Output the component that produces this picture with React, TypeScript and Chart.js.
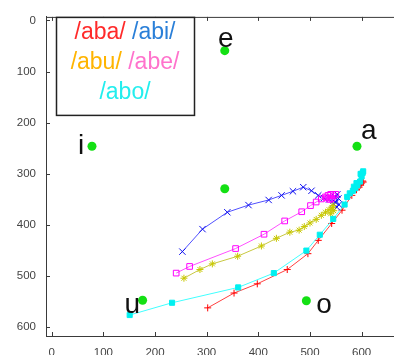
import React, { useEffect, useRef } from 'react';
import { Chart, registerables } from 'chart.js';
Chart.register(...registerables);

const xTicks = [0, 100, 200, 300, 400, 500, 600];
const yTicks = [0, 100, 200, 300, 400, 500, 600];

const seriesNames = ['/aba/', '/abi/', '/abu/', '/abe/', '/abo/'];
const legendColors = ['#ff2a2a', '#2a7fd8', '#ffb400', '#ff72cc', '#22eeee'];

const abaPoints = [[302, 562], [353, 533], [398, 515], [456, 487], [496, 456], [516, 430], [542, 397], [562, 371], [581, 342], [590, 331], [595, 326], [598, 322], [600, 318], [602, 314], [598, 320], [603, 316]];
const abiPoints = [[253, 452], [292, 408], [340, 375], [381, 361], [420, 351], [445, 342], [467, 334], [487, 326], [503, 333], [516, 342], [527, 347], [537, 350], [545, 352], [550, 356], [555, 348], [553, 340], [548, 345], [556, 360], [552, 365], [545, 358]];
const abuPoints = [[256, 504], [287, 487], [311, 476], [360, 461], [406, 441], [435, 426], [461, 414], [479, 410], [489, 403], [500, 396], [512, 389], [522, 381], [530, 375], [537, 370], [543, 366], [546, 372], [540, 378], [545, 362]];
const abePoints = [[241, 494], [267, 481], [356, 446], [411, 418], [451, 392], [484, 374], [501, 362], [512, 355], [522, 349], [530, 345], [535, 342], [540, 340], [545, 343], [538, 350], [532, 347], [542, 348], [550, 340]];
const aboPoints = [[151, 576], [233, 552], [361, 522], [430, 494], [493, 450], [519, 419], [545, 388], [567, 360], [572, 345], [577, 338], [583, 333], [588, 328], [592, 322], [597, 315], [600, 305], [602, 298], [598, 300], [603, 295], [590, 318], [585, 325]];

const vowelX = [78, 335, 591, 176, 493, 335];
const vowelY = [246, 59, 246, 547, 548, 329];
const vowelNames = ['i', 'e', 'a', 'u', 'o'];
const labelX = [57, 337, 614, 156, 527];
const labelY = [262, 51, 232, 572, 572];

const toXY = (arr: number[][]) => arr.map(([x, y]) => ({ x, y }));

const AXIS = '#3a3a3a';

const framePlugin = {
  id: 'frame',
  afterDatasetsDraw(chart: any) {
    const { ctx, chartArea, scales } = chart;
    const xs = scales.x;
    const ys = scales.y;
    ctx.save();
    ctx.strokeStyle = AXIS;
    ctx.lineWidth = 1;
    ctx.beginPath();
    ctx.moveTo(chartArea.left, chartArea.top + 0.5);
    ctx.lineTo(chart.width, chartArea.top + 0.5);
    ctx.moveTo(chartArea.right - 1, chartArea.bottom + 0.5);
    ctx.lineTo(chart.width, chartArea.bottom + 0.5);
    for (const t of xTicks) {
      const px = Math.round(xs.getPixelForValue(t)) + 0.5;
      ctx.moveTo(px, chartArea.bottom);
      ctx.lineTo(px, chartArea.bottom - 4);
      ctx.moveTo(px, chartArea.top);
      ctx.lineTo(px, chartArea.top + 4);
    }
    for (const t of yTicks) {
      const py = Math.round(ys.getPixelForValue(t)) + 0.5;
      ctx.moveTo(chartArea.left, py);
      ctx.lineTo(chartArea.left + 4, py);
    }
    ctx.stroke();

    // vowel labels
    ctx.fillStyle = '#111';
    ctx.font = '28px "Liberation Sans", Arial, sans-serif';
    ctx.textAlign = 'center';
    ctx.textBaseline = 'alphabetic';
    vowelNames.forEach((n, i) => {
      ctx.fillText(n, xs.getPixelForValue(labelX[i]), ys.getPixelForValue(labelY[i]));
    });

    // legend box
    const bx = chartArea.left + 10;
    const by = chartArea.top;
    const bw = 138;
    const bh = 98;
    ctx.fillStyle = '#fff';
    ctx.fillRect(bx, by, bw, bh);
    ctx.strokeStyle = '#222';
    ctx.lineWidth = 1.5;
    ctx.strokeRect(bx + 0.5, by + 0.5, bw, bh);
    ctx.font = '23px "Liberation Sans", Arial, sans-serif';
    ctx.textAlign = 'left';
    const rows = [[0, 1], [2, 3], [4]];
    const baselines = [39, 69, 99];
    const cx = bx + bw / 2;
    const space = ctx.measureText(' ').width;
    rows.forEach((row, r) => {
      const widths = row.map((i) => ctx.measureText(seriesNames[i]).width);
      const total = widths.reduce((a, b) => a + b, 0) + space * (row.length - 1);
      let x = cx - total / 2;
      row.forEach((i, k) => {
        ctx.fillStyle = legendColors[i];
        ctx.fillText(seriesNames[i], x, baselines[r]);
        x += widths[k] + space;
      });
    });
    ctx.restore();
  },
};

export default function App() {
  const ref = useRef<HTMLCanvasElement>(null);
  useEffect(() => {
    const canvas = ref.current!;
    const line = (data: number[][], color: string, lineColor: string, style: string, radius: number, fill: boolean, order: number) => ({
      data: toXY(data),
      showLine: true,
      borderColor: lineColor,
      borderWidth: 1,
      pointStyle: style,
      pointRadius: radius,
      pointBorderColor: color,
      pointBackgroundColor: fill ? color : 'rgba(0,0,0,0)',
      pointBorderWidth: 1,
      order,
    });
    const chart = new Chart(canvas, {
      type: 'scatter',
      data: {
        datasets: [
          line(abaPoints, '#ff0000', '#ff4040', 'cross', 3.5, false, 5) as any,
          line(abiPoints, '#1010ee', '#5050ff', 'crossRot', 4.5, false, 4),
          line(abuPoints, '#c8c800', '#c8c840', 'star', 3.5, false, 3),
          line(abePoints, '#ff00ff', '#ff50ff', 'rect', 4, false, 2),
          line(aboPoints, '#00f0f0', '#40ffff', 'rect', 3.6, true, 1),
          {
            data: vowelX.map((x, i) => ({ x, y: vowelY[i] })),
            pointRadius: 4.5,
            pointBackgroundColor: '#14e014',
            pointBorderColor: '#14e014',
            pointBorderWidth: 0,
            order: 0,
          },
        ],
      },
      options: {
        animation: false,
        responsive: false,
        devicePixelRatio: 1,
        layout: { padding: { top: 14, left: 0, right: 0, bottom: 0 } },
        plugins: { legend: { display: false }, tooltip: { enabled: false } },
        scales: {
          x: {
            type: 'linear',
            min: -11,
            max: 652,
            afterBuildTicks: (s: any) => { s.ticks = xTicks.map((v) => ({ value: v })); },
            afterFit: (s: any) => { s.height = 19; },
            grid: { display: false, drawTicks: false },
            border: { display: true, color: AXIS, width: 1 },
            ticks: { color: '#444', padding: 10, font: { family: '"Liberation Sans", Arial, sans-serif', size: 11.5 } },
          },
          y: {
            type: 'linear',
            reverse: true,
            min: -7,
            max: 617,
            afterBuildTicks: (s: any) => { s.ticks = yTicks.map((v) => ({ value: v })); },
            afterFit: (s: any) => { s.width = 46; },
            grid: { display: false, drawTicks: false },
            border: { display: true, color: AXIS, width: 1 },
            ticks: { color: '#444', padding: 10, font: { family: '"Liberation Sans", Arial, sans-serif', size: 11.5 } },
          },
        },
      },
      plugins: [framePlugin],
    });
    return () => chart.destroy();
  }, []);
  return (
    <div style={{ position: 'fixed', left: 0, top: 0, width: 394, height: 355, overflow: 'hidden', background: '#fff' }}>
      <canvas ref={ref} width={394} height={355} style={{ width: 394, height: 355, display: 'block' }} />
    </div>
  );
}
